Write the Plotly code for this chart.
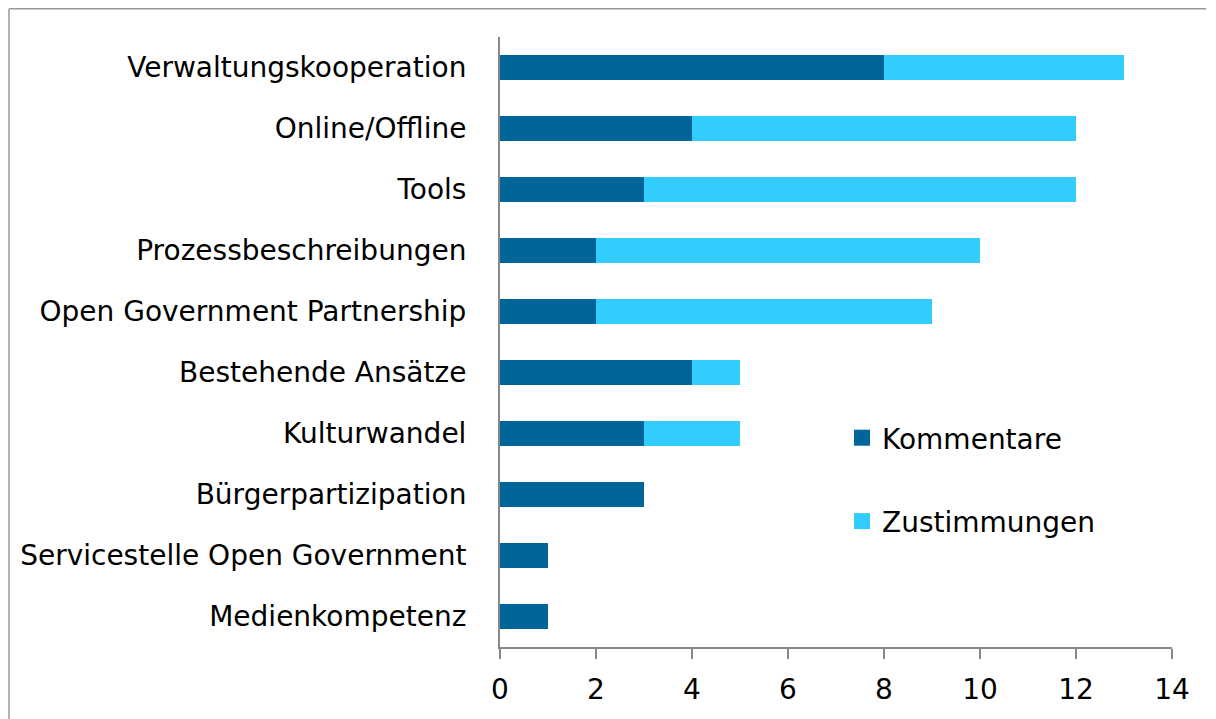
import plotly.graph_objects as go

categories = ["Verwaltungskooperation", "Online/Offline", "Tools", "Prozessbeschreibungen",
              "Open Government Partnership", "Bestehende Ansätze", "Kulturwandel",
              "Bürgerpartizipation", "Servicestelle Open Government", "Medienkompetenz"]
kommentare = [8, 4, 3, 2, 2, 4, 3, 3, 1, 1]
zustimmungen = [5, 8, 9, 8, 7, 1, 2, 0, 0, 0]
x_ticks = [0, 2, 4, 6, 8, 10, 12, 14]
series_names = ["Kommentare", "Zustimmungen"]
series_colors = ["#006699", "#33CCFF"]

FONT = "DejaVu Sans"
FS = 28

fig = go.Figure()
for vals, name, col in zip([kommentare, zustimmungen], series_names, series_colors):
    fig.add_trace(go.Bar(y=categories, x=vals, name=name, orientation="h",
                         marker=dict(color=col, line=dict(width=0)), showlegend=False))
# legend entries with larger square swatches
for i, (name, col) in enumerate(zip(series_names, series_colors)):
    fig.add_trace(go.Scatter(x=[None], y=[None], mode="markers", name=name,
                             marker=dict(symbol="square", size=19, color=col),
                             legendgroup=f"g{i}", showlegend=True))

# page body has an 8px margin
W, H = 1208, 711
L, R, T, B = 492, 44, 29, 72
pw, ph = W - L - R, H - T - B

fx0 = (1 - L) / pw            # frame left edge (paper units)
fx1 = (W - 10 - L) / pw       # towards right edge
fy_top = (H - B - 0.75) / ph  # frame top edge
fy_bot = (H - B - H) / ph
frame_line = dict(color="#999999", width=1.5)

fig.update_layout(
    width=W, height=H,
    margin=dict(l=L, r=R, t=T, b=B),
    barmode="stack", bargap=0.6,
    plot_bgcolor="white", paper_bgcolor="white",
    font=dict(family=FONT, size=FS, color="black"),
    showlegend=True,
    legend=dict(x=(834 - L) / pw, y=(H - B - 405) / ph, xanchor="left", yanchor="top",
                traceorder="grouped", tracegroupgap=44,
                font=dict(family=FONT, size=FS), bgcolor="rgba(0,0,0,0)",
                itemwidth=30),
    xaxis=dict(range=[0, 14], tickvals=x_ticks, showgrid=False, zeroline=False,
               showline=True, linecolor="#888888", linewidth=2,
               ticks="outside", ticklen=10, tickwidth=2, tickcolor="#888888",
               ticklabelstandoff=6,
               tickfont=dict(family=FONT, size=FS), fixedrange=True),
    yaxis=dict(categoryorder="array", categoryarray=categories[::-1], autorange=True,
               showgrid=False, zeroline=False, showline=True, linecolor="#888888",
               linewidth=2, ticks="", ticklabelstandoff=26,
               tickfont=dict(family=FONT, size=FS), fixedrange=True),
    shapes=[
        dict(type="line", xref="paper", yref="paper", x0=fx0, x1=fx0, y0=fy_bot, y1=fy_top,
             line=frame_line, layer="below"),
        dict(type="line", xref="paper", yref="paper", x0=fx0, x1=fx1, y0=fy_top, y1=fy_top,
             line=frame_line, layer="below"),
    ],
)

fig.write_html("out.html", config={"displayModeBar": False})
